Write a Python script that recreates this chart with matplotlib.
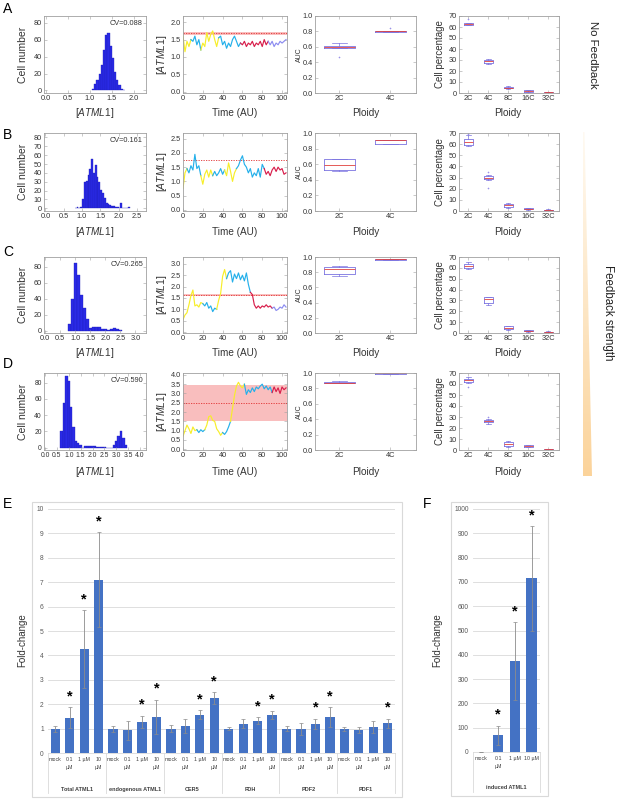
import numpy as np
import matplotlib
matplotlib.use('Agg')
import matplotlib.pyplot as plt
from matplotlib.patches import Rectangle, Polygon

plt.rcParams['font.family'] = ['Liberation Sans', 'DejaVu Sans']
plt.rcParams['mathtext.fontset'] = 'custom'
plt.rcParams['mathtext.it'] = 'Liberation Sans:italic'
plt.rcParams['mathtext.rm'] = 'Liberation Sans'

# ---------------- data: histograms ----------------
hist_a_left = 1.05
hist_a_width = 0.05
hist_a_counts = [2, 8, 12, 20, 30, 48, 65, 68, 52, 38, 22, 12, 6, 2, 1]

hist_b_left = 0.80
hist_b_width = 0.05
hist_b_counts = [0, 1, 0, 1, 10, 30, 31, 38, 44, 56, 40, 49, 35, 30, 21, 17, 12,
                 6, 5, 4, 3, 3, 2, 2, 0, 6, 0, 0, 0, 1]

hist_c_left = 0.75
hist_c_width = 0.1
hist_c_counts = [8, 40, 85, 70, 45, 28, 14, 3, 5, 4, 4, 2, 2, 1, 2, 3, 2, 1]

hist_d_left = 0.65
hist_d_width = 0.1
hist_d_counts = [20, 55, 88, 82, 50, 25, 8, 6, 3, 0, 2, 2, 2, 2, 2, 1, 1, 1, 1,
                 0, 0, 0, 3, 8, 14, 20, 12, 3]

cv_labels = ['CV=0.088', 'CV=0.161', 'CV=0.265', 'CV=0.590']

# ---------------- data: time traces ----------------
time = list(range(0, 105, 2))
trace_a = [1.6, 1.15, 1.45, 1.3, 1.5, 1.45, 1.6, 1.35, 1.5, 1.2, 1.4, 1.3, 1.7, 1.45,
           1.65, 1.75, 1.5, 1.3, 1.55, 1.6, 1.35, 1.45, 1.25, 1.4, 1.3, 1.5, 1.6,
           1.45, 1.3, 1.4, 1.35, 1.45, 1.3, 1.4, 1.35, 1.45, 1.3, 1.4, 1.35, 1.45,
           1.3, 1.5, 1.35, 1.45, 1.35, 1.45, 1.3, 1.4, 1.35, 1.45, 1.4, 1.45, 1.5]
trace_b = [0.75, 1.3, 1.45, 1.3, 1.55, 1.4, 1.95, 1.45, 1.55, 1.2, 0.9, 1.25, 1.4,
           1.15, 1.4, 1.2, 1.35, 1.2, 1.3, 1.45, 1.25, 1.4, 1.2, 1.65, 1.35, 1.0,
           1.3, 1.45, 1.55, 1.75, 1.9, 1.6, 1.5, 1.3, 1.45, 1.15, 1.3, 1.2, 1.45,
           1.15, 1.6, 1.45, 1.25, 1.35, 1.2, 1.4, 1.5, 1.35, 1.5, 1.4, 1.45, 1.25, 1.3]
trace_c = [0.55, 0.75, 0.85, 1.2, 1.6, 1.85, 1.15, 1.2, 1.1, 1.3, 1.25, 1.15, 1.3,
           1.05, 1.15, 0.9, 1.05, 1.0, 1.4, 1.7, 2.45, 2.75, 2.35, 2.6, 2.7, 2.2,
           2.55, 2.35, 2.6, 2.3, 2.5, 2.25, 2.6, 2.1, 1.75, 1.65, 1.2, 1.05, 1.15,
           1.05, 1.15, 1.1, 1.2, 1.1, 1.15, 1.05, 1.1, 0.95, 1.0, 1.1, 1.05, 1.2, 1.1]
trace_d = [0.7, 1.0, 1.3, 1.1, 0.85, 1.2, 1.0, 1.05, 0.9, 1.05, 0.95, 1.05, 1.3,
           1.75, 1.8, 1.55, 1.5, 1.1, 0.95, 0.75, 0.9, 0.8, 0.95, 1.2, 1.5, 2.2,
           2.9, 3.4, 3.6, 3.4, 3.3, 3.5, 2.95, 3.2, 3.05, 3.3, 3.1, 3.35, 3.25, 3.4,
           3.5, 3.25, 3.4, 3.2, 3.35, 3.05, 3.35, 3.1, 3.3, 3.0, 3.35, 3.2, 3.3]

# phases: (start, end, cell state)
phases_a = [(0, 8, 'y'), (8, 18, 'c'), (18, 36, 'y'), (36, 58, 'c'), (58, 86, 'r'), (86, 104, 'p')]
phases_b = [(0, 4, 'y'), (4, 18, 'c'), (18, 30, 'y'), (30, 42, 'c'), (42, 54, 'y'), (54, 82, 'c'), (82, 104, 'r')]
phases_c = [(0, 20, 'y'), (20, 34, 'c'), (34, 44, 'y'), (44, 68, 'c'), (68, 90, 'r'), (90, 104, 'p')]
phases_d = [(0, 14, 'y'), (14, 22, 'c'), (22, 40, 'y'), (40, 48, 'c'), (48, 62, 'y'), (62, 90, 'c'), (90, 104, 'r')]

thresholds = [1.68, 1.75, 1.63, 2.48]
bands = [(1.64, 1.71), None, (1.58, 1.68), (1.53, 3.43)]

# ---------------- data: box plots (q1, med, q3, whislo, whishi, fliers) ----------------
auc_a = [(0.585, 0.60, 0.61, 0.58, 0.65, [0.47]), (0.79, 0.80, 0.81, 0.79, 0.81, [0.85])]
auc_b = [(0.52, 0.59, 0.67, 0.51, 0.67, []), (0.86, 0.905, 0.91, 0.86, 0.91, [])]
auc_c = [(0.78, 0.84, 0.87, 0.75, 0.88, []), (0.96, 0.97, 0.975, 0.96, 0.98, [])]
auc_d = [(0.87, 0.875, 0.885, 0.865, 0.89, []), (0.99, 0.995, 1.0, 0.99, 1.0, [])]
auc_labels = ['2C', '4C']

cell_a = [(62, 63, 64, 62, 64, [67]), (27.5, 29, 30, 26, 31, []), (4.5, 5, 5.5, 4, 6, []),
          (1, 1.5, 2.5, 0.5, 2.8, []), (0.3, 0.6, 1, 0, 1.3, [])]
cell_b = [(59, 62, 65, 58, 68, [69]), (29, 30, 31, 28, 32, [21, 35]), (3.5, 5, 6, 3, 7, []),
          (1.5, 2, 2.5, 1, 3, []), (0.5, 0.8, 1, 0, 1.5, [])]
cell_c = [(60, 62, 64, 59, 65, []), (28, 31, 33, 26, 33, []), (3.5, 4.5, 6, 3, 6.5, []),
          (1.5, 2, 2.5, 1, 3, []), (0.3, 0.7, 1, 0, 1.5, [])]
cell_d = [(62, 63.5, 65, 61, 66, [57]), (25.5, 26, 27, 24, 28, [30]), (4, 5.5, 7, 3, 8, []),
          (3, 3.8, 4.5, 2.5, 5, []), (0, 0.5, 1, 0, 1.2, [])]
cell_labels = ['2C', '4C', '8C', '16C', '32C']

# ---------------- data: qPCR bars ----------------
dose_labels = ['mock', '0.1\nµM', '1 µM', '10\nµM']
gene_labels = ['Total ATML1', 'endogenous ATML1', 'CER5', 'FDH', 'PDF2', 'PDF1']
total_atml1 = [1.0, 1.45, 4.25, 7.1]
total_atml1_err = [0.12, 0.42, 1.6, 1.95]
endo_atml1 = [1.0, 0.93, 1.27, 1.48]
endo_atml1_err = [0.12, 0.38, 0.25, 0.7]
cer5 = [1.0, 1.1, 1.57, 2.25]
cer5_err = [0.15, 0.3, 0.19, 0.25]
fdh = [1.0, 1.2, 1.33, 1.57]
fdh_err = [0.07, 0.18, 0.14, 0.17]
pdf2 = [1.0, 0.98, 1.19, 1.48]
pdf2_err = [0.1, 0.26, 0.22, 0.4]
pdf1 = [0.98, 0.93, 1.07, 1.22]
pdf1_err = [0.07, 0.12, 0.26, 0.18]
signif_e = [0, 1, 1, 1, 0, 0, 1, 1, 0, 0, 1, 1, 0, 0, 1, 1, 0, 0, 1, 1, 0, 0, 0, 1]

induced_labels = ['mock', '0.1\nµM', '1 µM', '10 µM']
induced_atml1 = [0, 68, 374, 715]
induced_atml1_err = [0, 40, 160, 215]
signif_f = [0, 1, 1, 1]

# ---------------- layout helpers ----------------
W, H = 617, 801
fig = plt.figure(figsize=(W / 100, H / 100), dpi=100)


def px_axes(x0, y0, x1, y1):
    return fig.add_axes([x0 / W, 1 - y1 / H, (x1 - x0) / W, (y1 - y0) / H])


def ftext(x, y, s, **kw):
    return fig.text(x / W, 1 - y / H, s, **kw)


def frame(ax, size=5.3):
    for s in ax.spines.values():
        s.set_color('#a0a0a0')
        s.set_linewidth(0.6)
    ax.tick_params(direction='in', length=2, width=0.4, color='#a0a0a0',
                   labelcolor='#333333', labelsize=size, top=True, right=True, pad=1.5)


phase_colors = {'y': '#f7ee2a', 'c': '#25b0ea', 'r': '#d81e4b', 'p': '#8c8cf0'}
row_top = [16, 133, 257, 373]
row_bot = [93, 211, 333, 450]
xlab_y = [113, 232, 353, 472]

hists = [(hist_a_left, hist_a_width, hist_a_counts, 2.28, [0, 20, 40, 60, 80], 88),
         (hist_b_left, hist_b_width, hist_b_counts, 2.75, list(range(0, 81, 10)), 85),
         (hist_c_left, hist_c_width, hist_c_counts, 3.35, [0, 20, 40, 60, 80], 92),
         (hist_d_left, hist_d_width, hist_d_counts, 4.25, [0, 20, 40, 60, 80], 92)]
traces = [(trace_a, phases_a, 2.18, np.arange(0, 2.01, 0.5)),
          (trace_b, phases_b, 2.7, np.arange(0, 2.51, 0.5)),
          (trace_c, phases_c, 3.3, np.arange(0, 3.01, 0.5)),
          (trace_d, phases_d, 4.1, np.arange(0, 4.01, 0.5))]
aucs = [auc_a, auc_b, auc_c, auc_d]
cells = [cell_a, cell_b, cell_c, cell_d]


def box_stats(rows, labels):
    out = []
    for (q1, med, q3, lo, hi, fl), lab in zip(rows, labels):
        out.append(dict(q1=q1, med=med, q3=q3, whislo=lo, whishi=hi, fliers=fl, label=lab))
    return out


box_kw = dict(boxprops=dict(color='#7a72e0', lw=0.6),
              whiskerprops=dict(color='#7a72e0', lw=0.5),
              capprops=dict(color='#7a72e0', lw=0.5),
              medianprops=dict(color='#e0403c', lw=0.6),
              flierprops=dict(marker='+', markersize=1.5, markeredgecolor='#9a92e8', markeredgewidth=0.4))

t = np.array(time)
for i in range(4):
    y0, y1 = row_top[i], row_bot[i]

    # histogram
    left, width, counts, xmax, yt, ymax = hists[i]
    ax = px_axes(44, y0, 146, y1)
    edges = left + width * np.arange(len(counts))
    ax.bar(edges, counts, width=width, align='edge', color='#2a2ae6', edgecolor='#1c1cb8', lw=0.25)
    ax.set_xlim(-0.04, xmax)
    ax.set_ylim(-3, ymax)
    ax.set_xticks(np.arange(0, xmax - 0.1, 0.5))
    ax.set_xticklabels([f'{v:.1f}' for v in np.arange(0, xmax - 0.1, 0.5)])
    ax.set_yticks(yt)
    frame(ax, 4.9 if i == 3 else 5.3)
    ax.text(0.97, 0.9, cv_labels[i], transform=ax.transAxes, ha='right', va='center', fontsize=5.3, color='#333333')
    ftext(23, (y0 + y1) / 2, 'Cell number', rotation=90, ha='center', va='center', fontsize=7.5, color='#333333')
    ftext(95, xlab_y[i], r'[$\it{ATML1}$]', ha='center', va='center', fontsize=7.2, color='#333333')

    # trace
    vals, phases, ymax, yt = traces[i]
    v = np.array(vals)
    ax = px_axes(183, y0, 287, y1)
    band = bands[i]
    if band is not None:
        ax.axhspan(band[0], band[1], color='#f8a8a8', alpha=0.75, lw=0)
    ax.axhline(thresholds[i], color='#e03030', lw=0.6, ls=(0, (1.5, 1.5)))
    for a, b, state in phases:
        m = (t >= a) & (t <= b)
        ax.plot(t[m], v[m], color=phase_colors[state], lw=0.85)
    ax.set_xlim(0, 105)
    ax.set_ylim(-0.04, ymax)
    ax.set_xticks([0, 20, 40, 60, 80, 100])
    ax.set_yticks(yt)
    ax.set_yticklabels([f'{x:.1f}' for x in yt])
    frame(ax)
    ftext(162, (y0 + y1) / 2, r'[$\it{ATML1}$]', rotation=90, ha='center', va='center', fontsize=7.5, color='#333333')
    ftext(235, xlab_y[i], 'Time (AU)', ha='center', va='center', fontsize=7.2, color='#333333')

    # AUC box
    ax = px_axes(315, y0, 416, y1)
    ax.bxp(box_stats(aucs[i], auc_labels), widths=0.6, **box_kw)
    ax.set_xlim(0.52, 2.5)
    ax.set_ylim(0, 1.0)
    ax.set_yticks(np.arange(0, 1.01, 0.2))
    ax.set_yticklabels([f'{x:.1f}' for x in np.arange(0, 1.01, 0.2)])
    frame(ax)
    ftext(299, (y0 + y1) / 2, 'AUC', rotation=90, ha='center', va='center', fontsize=5, color='#333333')
    ftext(366, xlab_y[i], 'Ploidy', ha='center', va='center', fontsize=7.2, color='#333333')

    # cell percentage box
    ax = px_axes(459, y0, 559, y1)
    ax.bxp(box_stats(cells[i], cell_labels), widths=0.45, **box_kw)
    ax.set_xlim(0.53, 5.55)
    ax.set_ylim(0, 70)
    ax.set_yticks(range(0, 71, 10))
    frame(ax)
    ftext(440, (y0 + y1) / 2, 'Cell percentage', rotation=90, ha='center', va='center', fontsize=7, color='#333333')
    ftext(508, xlab_y[i], 'Ploidy', ha='center', va='center', fontsize=7.2, color='#333333')

# panel letters and side labels
for lab, (x, y) in zip('ABCDEF', [(8, 9), (8, 135), (8, 252), (8, 364), (8, 504), (427, 504)]):
    ftext(x, y, lab, ha='center', va='center', fontsize=10)
ftext(593, 55, 'No Feedback', rotation=-90, ha='center', va='center', fontsize=8.2, color='#222222')
ftext(608, 313, 'Feedback strength', rotation=-90, ha='center', va='center', fontsize=8.3, color='#222222')

# feedback wedge
wax = fig.add_axes([0, 0, 1, 1], zorder=-1)
wax.set_xlim(0, W)
wax.set_ylim(H, 0)
wax.axis('off')
grad = np.linspace(0, 1, 256).reshape(-1, 1)
cmap = matplotlib.colors.LinearSegmentedColormap.from_list('w', ['#fffaf2', '#fbd39a'])
im = wax.imshow(grad, cmap=cmap, extent=(582, 593, 476, 132), aspect='auto')
poly = Polygon([(583, 132), (584.5, 132), (592, 476), (583, 476)], closed=True, transform=wax.transData)
im.set_clip_path(poly)

# ---------------- panels E and F ----------------
fig.patches.append(Rectangle((32 / W, 1 - 797 / H), 370 / W, 295 / H, transform=fig.transFigure,
                             fill=False, edgecolor='#d9d9d9', lw=0.8))
fig.patches.append(Rectangle((451 / W, 1 - 796 / H), 97 / W, 294 / H, transform=fig.transFigure,
                             fill=False, edgecolor='#d9d9d9', lw=0.8))


def excel_bars(ax, vals, errs, sig, ticklabels, groups, ymax, ystep, star_off):
    x = np.arange(len(vals))
    ax.bar(x, vals, width=0.64, color='#4472c4', zorder=2)
    ax.errorbar(x, vals, yerr=errs, fmt='none', ecolor='#8c8c8c', elinewidth=0.6, capsize=1.2,
                capthick=0.5, zorder=3)
    for xi, v, e, s in zip(x, vals, errs, sig):
        if s:
            ax.text(xi, v + e + star_off, '*', ha='center', va='center', fontsize=10.5, fontweight='bold')
    ax.set_xlim(-0.5, len(vals) - 0.5)
    ax.set_ylim(0, ymax)
    ax.set_yticks(np.arange(0, ymax + ystep / 2, ystep))
    ax.yaxis.grid(True, color='#d9d9d9', lw=0.6)
    ax.set_axisbelow(True)
    for s in ['top', 'right', 'left']:
        ax.spines[s].set_visible(False)
    ax.spines['bottom'].set_color('#d9d9d9')
    ax.spines['bottom'].set_linewidth(0.6)
    ax.tick_params(axis='y', length=0, labelsize=4.8, labelcolor='#595959', pad=3)
    ax.tick_params(axis='x', length=0, labelsize=3.8, labelcolor='#404040', pad=3)
    ax.set_xticks(x)
    ax.set_xticklabels(ticklabels, va='top', linespacing=1.6)
    trans = ax.get_xaxis_transform()
    for g, name in enumerate(groups):
        ax.plot([g * 4 - 0.5] * 2, [0, -0.165], transform=trans, clip_on=False, color='#d9d9d9', lw=0.6)
        ax.text(g * 4 + 1.5, -0.148, name, transform=trans, ha='center', va='center',
                fontsize=4, fontweight='bold', color='#404040')
    ax.plot([len(groups) * 4 - 0.5] * 2, [0, -0.165], transform=trans, clip_on=False, color='#d9d9d9', lw=0.6)


axe = px_axes(48, 509, 395, 753)
e_vals = total_atml1 + endo_atml1 + cer5 + fdh + pdf2 + pdf1
e_errs = total_atml1_err + endo_atml1_err + cer5_err + fdh_err + pdf2_err + pdf1_err
excel_bars(axe, e_vals, e_errs, signif_e, dose_labels * 6, gene_labels, 10, 1, 0.45)
ftext(22, 640, 'Fold-change', rotation=90, ha='center', va='center', fontsize=7, color='#333333')

axf = px_axes(473, 509, 540, 752)
excel_bars(axf, induced_atml1, induced_atml1_err, signif_f, induced_labels, ['induced ATML1'], 1000, 100, 45)
ftext(437, 640, 'Fold-change', rotation=90, ha='center', va='center', fontsize=7, color='#333333')

fig.savefig('out.png', dpi=100)
